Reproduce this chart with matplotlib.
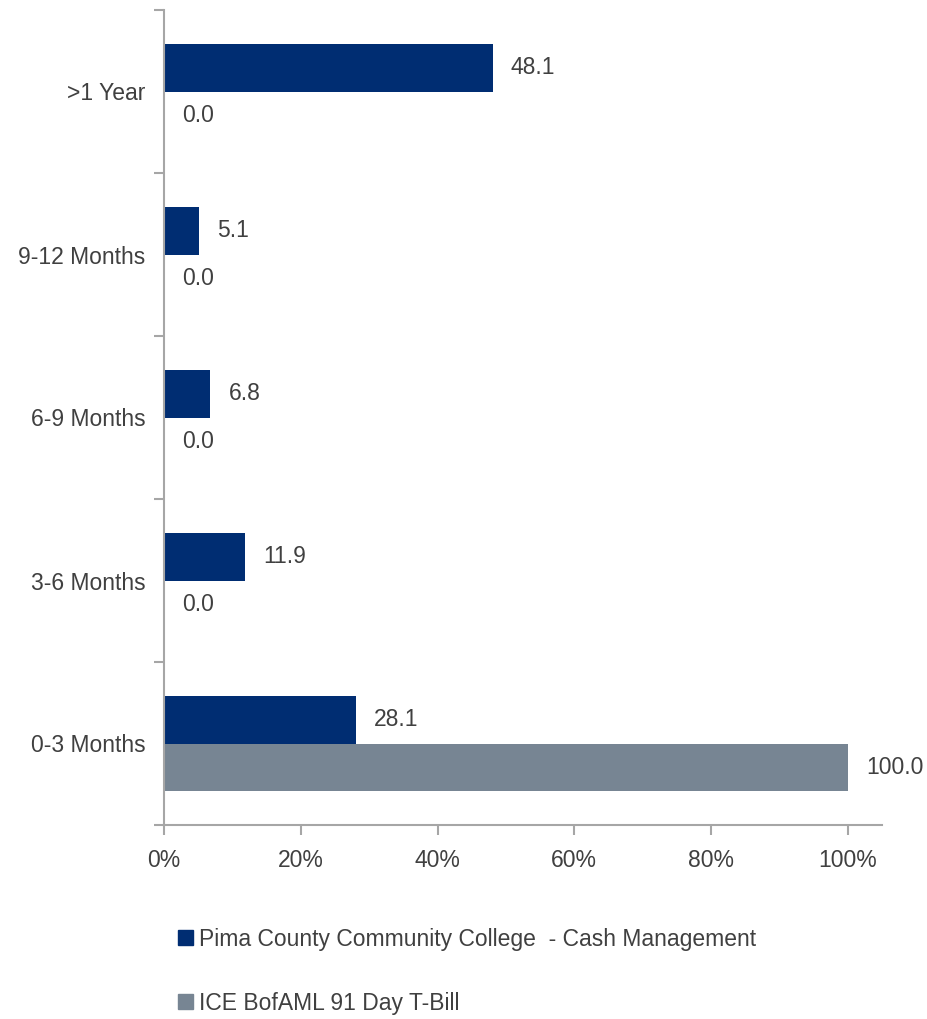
import matplotlib.pyplot as plt
import numpy as np
from matplotlib.patches import Patch

plt.rcParams['font.family'] = ['Liberation Sans', 'DejaVu Sans']

categories = ['0-3 Months', '3-6 Months', '6-9 Months', '9-12 Months', '>1 Year']
pima = [28.1, 11.9, 6.8, 5.1, 48.1]
tbill = [100.0, 0.0, 0.0, 0.0, 0.0]
series_names = ['Pima County Community College  - Cash Management',
                'ICE BofAML 91 Day T-Bill']

navy = '#002d72'
slate = '#778593'
text_col = '#404040'
axis_col = '#a6a6a6'
fs = 16.5

fig = plt.figure(figsize=(9.28, 10.19), dpi=100)
ax = fig.add_axes([164 / 928, 1 - 825 / 1019, (882 - 164) / 928, (825 - 10) / 1019])

y = np.arange(len(categories))
h = 0.29
ax.barh(y + h / 2, pima, height=h, color=navy)
ax.barh(y - h / 2, tbill, height=h, color=slate)

# value labels just right of each bar end
for i in range(len(categories)):
    ax.annotate(f'{pima[i]:.1f}', (pima[i], y[i] + h / 2), xytext=(13, 0),
                textcoords='offset points', va='center', ha='left',
                fontsize=fs, color=text_col)
    ax.annotate(f'{tbill[i]:.1f}', (tbill[i], y[i] - h / 2), xytext=(13, 0),
                textcoords='offset points', va='center', ha='left',
                fontsize=fs, color=text_col)

ax.set_xlim(0, 105)
ax.set_ylim(-0.5, len(categories) - 0.5)
ax.set_xticks(np.arange(0, 101, 20))
ax.set_xticklabels([f'{v}%' for v in range(0, 101, 20)])
ax.set_yticks(y)
ax.set_yticklabels(categories)
ax.set_yticks(np.arange(-0.5, len(categories), 1), minor=True)

for s in ['top', 'right']:
    ax.spines[s].set_visible(False)
for s in ['left', 'bottom']:
    ax.spines[s].set_color(axis_col)
    ax.spines[s].set_linewidth(1.5)

ax.tick_params(axis='y', which='major', length=0, pad=13.5, labelsize=fs, labelcolor=text_col)
ax.tick_params(axis='y', which='minor', length=7, width=1.5, color=axis_col, direction='out')
ax.tick_params(axis='x', length=7, width=1.5, color=axis_col, pad=10,
               labelsize=fs, labelcolor=text_col)

handles = [Patch(color=navy), Patch(color=slate)]
fig.legend(handles, series_names, loc='upper left', bbox_to_anchor=(157 / 928, 1 - 907 / 1019),
           frameon=False, fontsize=fs, labelcolor=text_col, handlelength=0.65,
           handleheight=0.65, handletextpad=0.3, labelspacing=1.8)

fig.savefig('out.png', dpi=100)
